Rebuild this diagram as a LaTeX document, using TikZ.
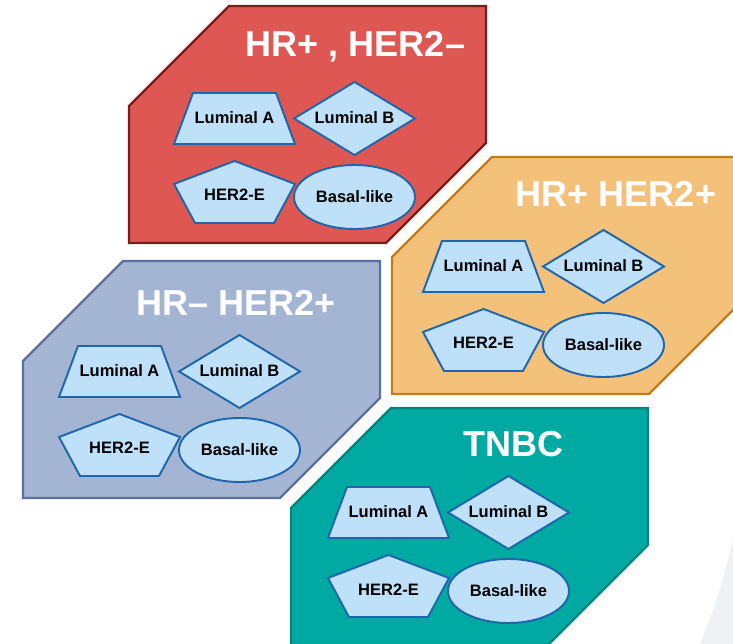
\documentclass[tikz,border=0pt]{standalone}
\usepackage{fontspec}
\setmainfont{Liberation Sans}

\definecolor{redfill}{HTML}{DE5753}
\definecolor{rededge}{HTML}{7A1C1A}
\definecolor{orangefill}{HTML}{F3C179}
\definecolor{orangeedge}{HTML}{C47A1E}
\definecolor{greyfill}{HTML}{A4B5D4}
\definecolor{greyedge}{HTML}{5B70A0}
\definecolor{tealfill}{HTML}{00A9A2}
\definecolor{tealedge}{HTML}{00857D}
\definecolor{shapefill}{HTML}{BEE0F8}
\definecolor{shapeedge}{HTML}{1F66AC}
\definecolor{swooshgrey}{HTML}{EEF2F5}

\tikzset{
    panel/.style={line width=1.3pt, line join=miter},
    subtype/.style={fill=shapefill, draw=shapeedge, line width=1.1pt},
    subname/.style={font=\bfseries\fontsize{9.4}{10}\selectfont, text=black, anchor=base, inner sep=0pt},
    headline/.style={font=\bfseries\fontsize{20.5}{22}\selectfont, text=white, anchor=base, inner sep=0pt}
}

\begin{document}
\begin{tikzpicture}[x=0.02cm, y=-0.02cm]
    \useasboundingbox (0,0) rectangle (733,644);
    \clip (0,0) rectangle (733,644);
    \fill[white] (0,0) rectangle (733,644);
    \fill[swooshgrey] (733,540) .. controls (724,580) and (712,615) .. (700,644) -- (733,644) -- cycle;

    \foreach \n/\px/\py/\gx/\gy/\tx/\ty/\fc/\ec/\title in {
        1/129/6/234.5/118.5/355.5/57/redfill/rededge/{HR+ , HER2–},
        2/392/157/483.5/266.5/616/207/orangefill/orangeedge/{HR+ HER2+},
        3/23/261/119.5/371.5/236/316/greyfill/greyedge/{HR– HER2+},
        4/291/408/388.5/512.5/513.5/457/tealfill/tealedge/{TNBC}}
    {
        \draw[panel, fill=\fc, draw=\ec] (\px+100,\py) -- (\px+357,\py) -- (\px+357,\py+137)
            -- (\px+257,\py+237) -- (\px,\py+237) -- (\px,\py+100) -- cycle;
        \node[headline] (title\n) at (\tx,\ty) {\title};

        \begin{scope}[shift={(\gx,\gy)}]
            \draw[subtype] (-41.5,-25.5) -- (41.5,-25.5) -- (60.5,25.5) -- (-60.5,25.5) -- cycle;
            \draw[subtype] (120,-36.5) -- (180.5,0) -- (120,36.5) -- (59.5,0) -- cycle;
            \draw[subtype] (0,42.5) -- (60.5,65.5) -- (39.5,104.5) -- (-39.5,104.5) -- (-60.5,65.5) -- cycle;
            \draw[subtype] (120,78.5) ellipse [x radius=60.5, y radius=32];

            \node[subname] (lumA\n) at (0,5.5) {Luminal A};
            \node[subname] (lumB\n) at (120,5.5) {Luminal B};
            \node[subname] (her\n) at (0,82.5) {HER2-E};
            \node[subname] (basal\n) at (120,84) {Basal-like};
        \end{scope}
    }
\end{tikzpicture}
\end{document}
